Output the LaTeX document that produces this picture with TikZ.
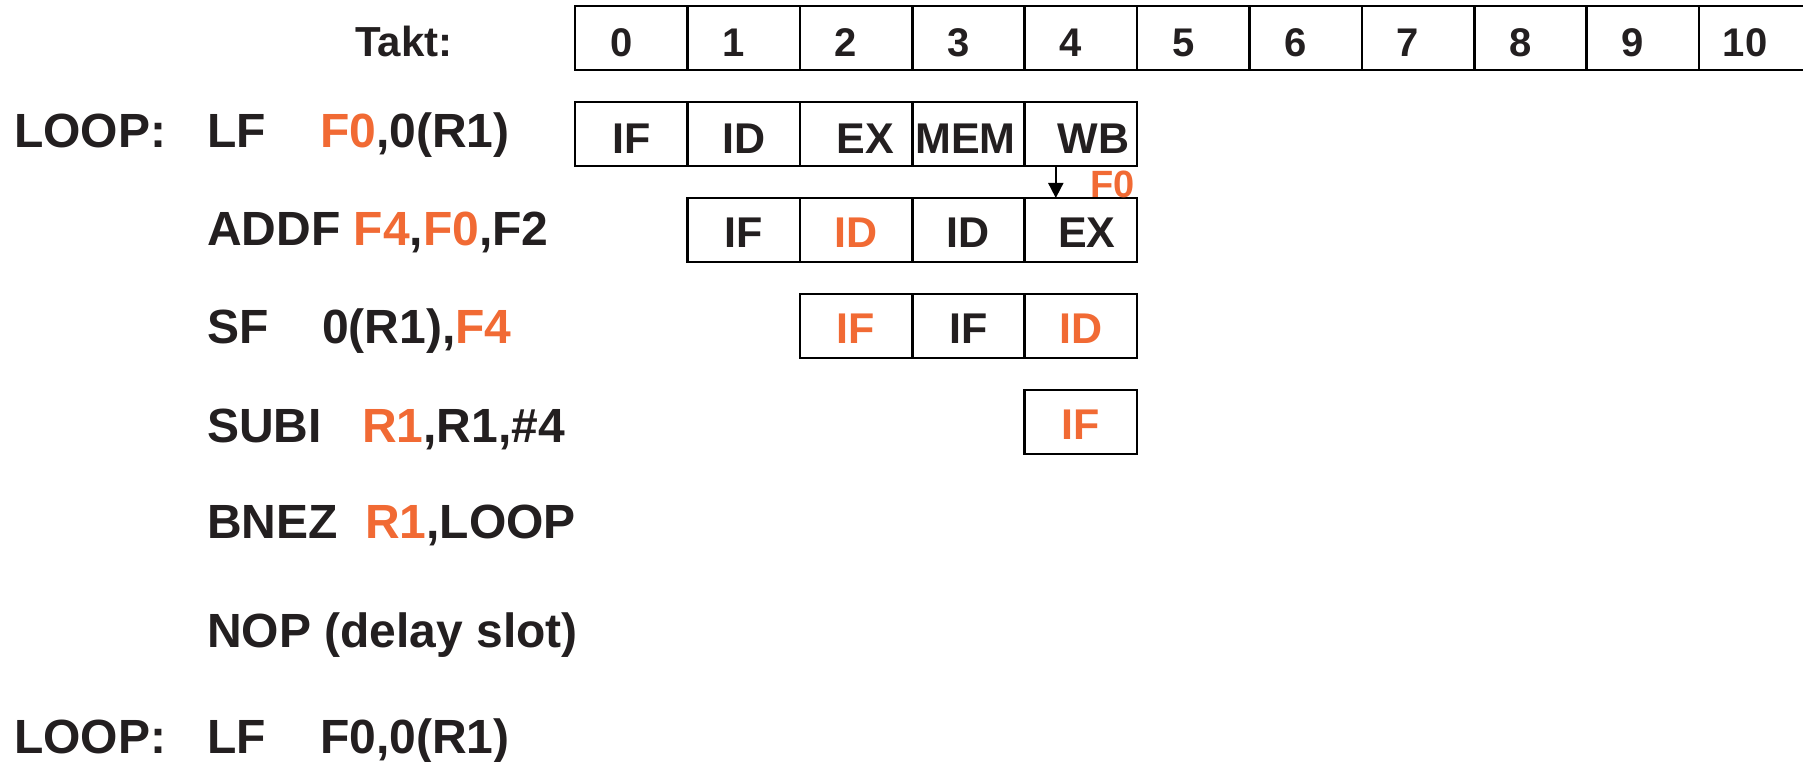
\documentclass[tikz,border=0pt]{standalone}
\usepackage{fontspec}
\setmainfont{Liberation Sans}
\usetikzlibrary{arrows.meta}
\definecolor{org}{RGB}{241,106,52}
\definecolor{ink}{RGB}{35,31,32}
\begin{document}
\begin{tikzpicture}[x=1pt,y=-1pt,
  cell/.style={draw=black,line width=2.6pt,minimum width=112.4pt,minimum height=64pt,inner sep=0pt,outer sep=0pt},
  stg/.style={anchor=base,inner sep=0pt,font=\bfseries\fontsize{43}{50}\selectfont,text=ink},
  num/.style={anchor=base,inner sep=0pt,font=\bfseries\fontsize{40}{48}\selectfont,text=ink},
  ins/.style={anchor=base west,inner sep=0pt,font=\bfseries\fontsize{48}{58}\selectfont,text=ink},
  hl/.style={text=org},
  fwd/.style={-{Triangle[length=15pt,width=15pt]},line width=1.8pt,draw=black}]
\useasboundingbox (0,0) rectangle (1803,762);
\clip (0,0) rectangle (1803,762);
% time line
\node[anchor=base west,inner sep=0pt,font=\bfseries\fontsize{42}{50}\selectfont,text=ink] (takt) at (355,57) {Takt:};
\foreach \k in {0,...,10}{
  \node[cell] (t\k) at ({575+112.4*(\k+0.5)},38) {};
  \node[num] (n\k) at ({575+112.4*(\k+0.5)-10},57) {\k};
}
% row 1
\foreach \k in {0,...,4}{\node[cell] (a\k) at ({575+112.4*(\k+0.5)},134) {};}
\node[stg] (a0t) at ([yshift=12pt]a0.south) {IF};
\node[stg] (a1t) at ([yshift=12pt]a1.south) {ID};
\node[stg] (a2t) at ([xshift=9pt,yshift=12pt]a2.south) {EX};
\node[stg] (a3t) at ([xshift=-3pt,yshift=12pt]a3.south) {MEM};
\node[stg] (a4t) at ([xshift=13pt,yshift=12pt]a4.south) {WB};
% row 2
\foreach \k in {1,...,4}{\node[cell] (b\k) at ({575+112.4*(\k+0.5)},230) {};}
\node[stg] (b1t) at ([yshift=15pt]b1.south) {IF};
\node[stg,hl] (b2t) at ([yshift=15pt]b2.south) {ID};
\node[stg] (b3t) at ([yshift=15pt]b3.south) {ID};
\node[stg] (b4t) at ([xshift=6pt,yshift=15pt]b4.south) {EX};
% row 3
\foreach \k in {2,...,4}{\node[cell] (c\k) at ({575+112.4*(\k+0.5)},326) {};}
\node[stg,hl] (c2t) at ([yshift=15pt]c2.south) {IF};
\node[stg] (c3t) at ([yshift=15pt]c3.south) {IF};
\node[stg,hl] (c4t) at ([yshift=15pt]c4.south) {ID};
% row 4
\node[cell] (d4) at ({575+112.4*4.5},422) {};
\node[stg,hl] (d4t) at ([yshift=15pt]d4.south) {IF};
% forwarding arrow
\draw[fwd] ([xshift=-25pt]a4.south) -- ([xshift=-25pt]b4.north);
\node[anchor=base east,inner sep=0pt,font=\bfseries\fontsize{38}{46}\selectfont,text=org] (f0) at ([xshift=-2pt,yshift=1pt]b4.north east) {F0};
% instructions
\node[ins] (l1) at (14,148) {LOOP:};
\node[ins] (m1) at (207,148) {LF};
\node[ins] (o1) at (320,148) {\textcolor{org}{F0},0(R1)};
\node[ins] (m2) at (207,245) {ADDF \textcolor{org}{F4},\textcolor{org}{F0},F2};
\node[ins] (m3) at (207,343) {SF};
\node[ins] (o3) at (322,343) {0(R1),\textcolor{org}{F4}};
\node[ins] (m4) at (207,442) {SUBI};
\node[ins] (o4) at (362,442) {\textcolor{org}{R1},R1,\#4};
\node[ins] (m5) at (207,538) {BNEZ};
\node[ins] (o5) at (365,538) {\textcolor{org}{R1},LOOP};
\node[ins] (m6) at (207,647) {NOP (delay slot)};
\node[ins] (l7) at (14,753) {LOOP:};
\node[ins] (m7) at (207,753) {LF};
\node[ins] (o7) at (320,753) {F0,0(R1)};
\end{tikzpicture}
\end{document}
